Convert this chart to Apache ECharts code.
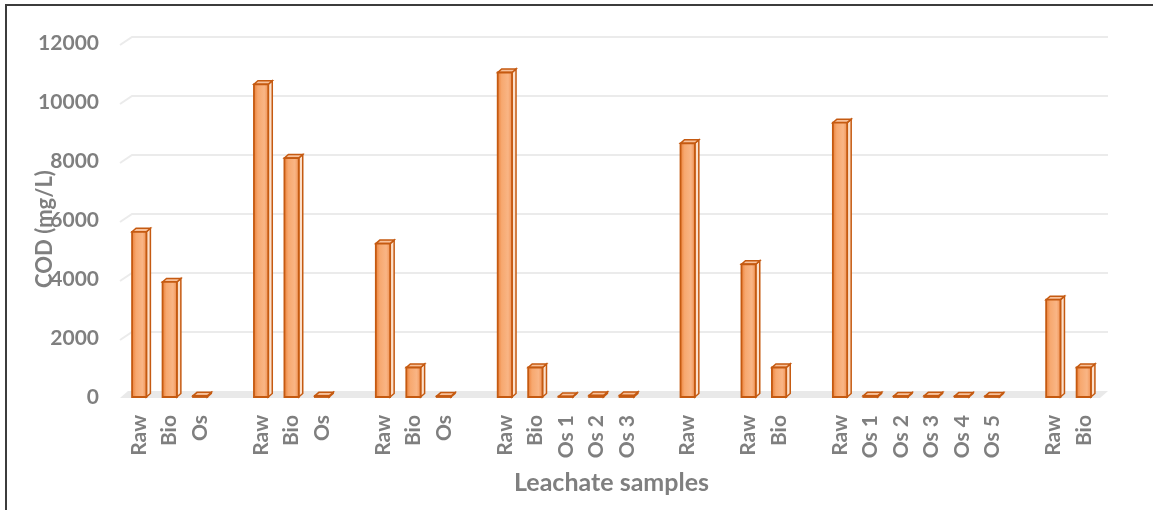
<!DOCTYPE html>
<html>
<head>
<meta charset="utf-8">
<script src="https://cdn.jsdelivr.net/npm/echarts@6/dist/echarts.min.js"></script>
<style>
html,body{margin:0;padding:0;background:#fff;}
#c{width:1153px;height:510px;}
</style>
</head>
<body>
<div id="c"></div>
<script>
// ---- data ----
const categories = [
  'Raw','Bio','Os','',
  'Raw','Bio','Os','',
  'Raw','Bio','Os','',
  'Raw','Bio','Os 1','Os 2','Os 3','',
  'Raw','',
  'Raw','Bio','',
  'Raw','Os 1','Os 2','Os 3','Os 4','Os 5','',
  'Raw','Bio'
];
const codValues = [
  5600, 3900, 40, null,
  10600, 8100, 40, null,
  5200, 1000, 30, null,
  11000, 1000, 20, 50, 50, null,
  8600, null,
  4500, 1000, null,
  9300, 40, 30, 40, 30, 30, null,
  3300, 1000
];
const yTicks = [0, 2000, 4000, 6000, 8000, 10000, 12000];
const xTitle = 'Leachate samples';
const yTitle = 'COD (mg/L)';

// ---- styles ----
const TEXT = '#7F7F7F';
const FONT = 'Lato, "Open Sans", sans-serif';
const EDGE = '#C55A11';

const barData = codValues.map((v, i) => [i, v]);

function renderBar(params, api) {
  const v = api.value(1);
  if (v == null || isNaN(v)) return null;
  const idx = api.value(0);
  const base = api.coord([idx, 0]);
  const top = api.coord([idx, v]);
  const w = api.size([1, 0])[0] * 0.47;
  const x0 = base[0] - w / 2, x1 = base[0] + w / 2;
  const yb = base[1], yt = top[1];
  const dx = 4, dy = 3.5;
  const fillFront = new echarts.graphic.LinearGradient(0, 0, 1, 0, [
    {offset: 0, color: '#E97A30'},
    {offset: 0.3, color: '#F7A86F'},
    {offset: 0.7, color: '#F9B585'},
    {offset: 1, color: '#EE8C4C'}
  ]);
  return {
    type: 'group',
    children: [
      {type: 'polygon', shape: {points: [[x1, yb], [x1 + dx, yb - dy], [x1 + dx, yt - dy], [x1, yt]]},
        style: {fill: '#FCE0CB', stroke: EDGE, lineWidth: 1.5}},
      {type: 'polygon', shape: {points: [[x0, yt], [x1, yt], [x1 + dx, yt - dy], [x0 + dx, yt - dy]]},
        style: {fill: '#F8C19A', stroke: EDGE, lineWidth: 1.5}},
      {type: 'rect', shape: {x: x0, y: yt, width: w, height: Math.max(yb - yt, 0.5)},
        style: {fill: fillFront, stroke: EDGE, lineWidth: 1.8}}
    ]
  };
}

function renderBack(params, api) {
  const cs = params.coordSys;
  const xL = cs.x, xR = cs.x + cs.width;
  const y0 = api.coord([0, 0])[1];
  const children = [];
  children.push({type: 'polygon',
    shape: {points: [[xL - 4, y0 + 1], [xR + 1, y0 + 1], [xR + 9, y0 - 6], [xL + 4, y0 - 6]]},
    style: {fill: '#E9E9E9'}});
  yTicks.forEach(t => {
    if (t === 0) return;
    const y = api.coord([0, t])[1];
    children.push({type: 'polyline',
      shape: {points: [[xL - 4, y + 2], [xL + 8, y - 6], [xR + 9, y - 6]]},
      style: {stroke: '#EBEBEB', lineWidth: 2, fill: null}});
  });
  return {type: 'group', children};
}

const chart = echarts.init(document.getElementById('c'), null, {renderer: 'canvas'});
chart.setOption({
  backgroundColor: '#fff',
  animation: false,
  graphic: [
    {type: 'line', shape: {x1: 6, y1: 4, x2: 6, y2: 510}, style: {stroke: '#3C3C3C', lineWidth: 2}},
    {type: 'line', shape: {x1: 5, y1: 5, x2: 1153, y2: 5}, style: {stroke: '#3C3C3C', lineWidth: 2}}
  ],
  grid: {left: 124, right: 54, top: 43, bottom: 113, outerBoundsMode: 'none'},
  xAxis: {
    type: 'category',
    data: categories,
    boundaryGap: true,
    axisLine: {show: false},
    axisTick: {show: false},
    axisLabel: {interval: 0, rotate: 90, margin: 18, color: TEXT, fontWeight: 'bold', fontSize: 21, fontFamily: FONT},
    name: xTitle,
    nameLocation: 'middle',
    nameGap: 73,
    nameMoveOverlap: false,
    nameTextStyle: {color: TEXT, fontWeight: 'bold', fontSize: 25, fontFamily: FONT}
  },
  yAxis: {
    type: 'value',
    min: 0, max: 12000, interval: 2000,
    axisLine: {show: false},
    axisTick: {show: false},
    splitLine: {show: false},
    axisLabel: {margin: 25, color: TEXT, fontWeight: 'bold', fontSize: 21, fontFamily: FONT,
      padding: [6, 0, 0, 0], formatter: v => String(v)},
    name: yTitle,
    nameLocation: 'middle',
    nameGap: 68,
    nameMoveOverlap: false,
    nameTextStyle: {color: TEXT, fontWeight: 'bold', fontSize: 22, fontFamily: FONT, padding: [0, 18, 0, 0]}
  },
  series: [
    {type: 'custom', name: 'back', data: [[0, 0]], renderItem: renderBack, clip: false, z: 1, silent: true},
    {type: 'custom', name: 'COD', data: barData, renderItem: renderBar, clip: false, z: 2}
  ]
});
</script>
</body>
</html>
